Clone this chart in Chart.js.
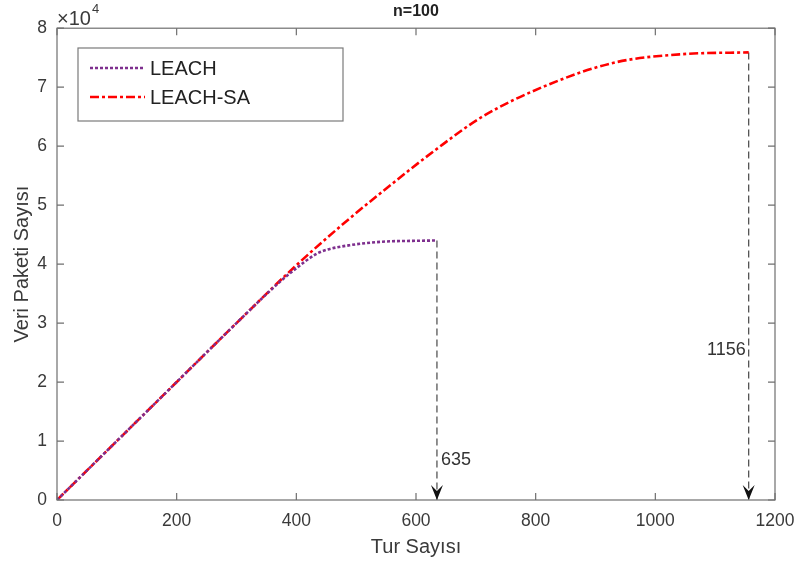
<!DOCTYPE html>
<html lang="tr">
<head>
<meta charset="UTF-8">
<title>n=100</title>
<script src="https://cdn.jsdelivr.net/npm/chart.js"></script>
<style>
  html, body { margin: 0; padding: 0; background: #fff; }
  #wrap { width: 797px; height: 562px; }
</style>
</head>
<body>
<div id="wrap"><canvas id="myChart" width="797" height="562"></canvas></div>
<script>
  // LEACH: tur sayısı / veri paketi
  const leachRounds = [0, 100, 200, 300, 350, 377, 400, 433, 450, 489, 544, 600, 635];
  const leachPackets = [0, 10000, 20000, 30000, 34900, 37400, 39300, 41700, 42400, 43200, 43800, 43950, 44000];

  // LEACH-SA
  const saRounds = [0, 100, 200, 300, 400, 477, 544, 633, 711, 823, 933, 1045, 1156];
  const saPackets = [0, 10000, 20000, 30000, 39800, 46700, 52300, 59400, 65000, 70500, 74200, 75600, 75900];

  // ömür sonu işaretleri (son tur)
  const lastRounds = [635, 1156];
  const lastPackets = [44000, 75900];
  const lastLabels = ['635', '1156'];
  const lastLabelY = [6800, 25500];

  const xTicks = [0, 200, 400, 600, 800, 1000, 1200];
  const yTicks = [0, 10000, 20000, 30000, 40000, 50000, 60000, 70000, 80000];

  const axisGray = '#6f6f6f';
  const textGray = '#3a3a3a';
  const fontFamily = '"Liberation Sans", Arial, sans-serif';

  function pts(xs, ys) {
    return xs.map((x, i) => ({ x: x, y: ys[i] }));
  }

  const datasets = [
    {
      label: 'LEACH',
      data: pts(leachRounds, leachPackets),
      borderColor: '#7e2f8e',
      borderWidth: 2.6,
      borderDash: [3, 2],
      cubicInterpolationMode: 'monotone',
      pointRadius: 0,
      fill: false
    },
    {
      label: 'LEACH-SA',
      data: pts(saRounds, saPackets),
      borderColor: '#ff0000',
      borderWidth: 2.6,
      borderDash: [9, 3, 3, 3],
      cubicInterpolationMode: 'monotone',
      pointRadius: 0,
      fill: false
    }
  ];

  // kesikli dikey çizgiler
  lastRounds.forEach((r, i) => {
    datasets.push({
      label: 'son-' + lastLabels[i],
      data: [{ x: r, y: lastPackets[i] }, { x: r, y: 0 }],
      borderColor: '#555',
      borderWidth: 1.3,
      borderDash: [7, 4],
      pointRadius: 0,
      fill: false
    });
  });

  // MATLAB tarzı kutu, içe dönük çentikler, legend, oklar
  const matlabPlugin = {
    id: 'matlabAxes',
    afterDatasetsDraw(chart) {
      const { ctx, chartArea: a, scales: { x, y } } = chart;
      ctx.save();

      // oklar ve etiketler
      lastRounds.forEach((r, i) => {
        const px = x.getPixelForValue(r);
        const py = y.getPixelForValue(0);
        ctx.fillStyle = '#111';
        ctx.beginPath();
        ctx.moveTo(px, py);
        ctx.lineTo(px - 6, py - 15);
        ctx.lineTo(px, py - 9);
        ctx.lineTo(px + 6, py - 15);
        ctx.closePath();
        ctx.fill();

        ctx.font = '18px ' + fontFamily;
        ctx.fillStyle = '#333';
        ctx.textBaseline = 'middle';
        const ly = y.getPixelForValue(lastLabelY[i]);
        if (i === 0) {
          ctx.textAlign = 'left';
          ctx.fillText(lastLabels[i], px + 4, ly);
        } else {
          ctx.textAlign = 'right';
          ctx.fillText(lastLabels[i], px - 3, ly);
        }
      });

      // kutu
      ctx.strokeStyle = axisGray;
      ctx.lineWidth = 1.2;
      ctx.setLineDash([]);
      ctx.strokeRect(a.left, a.top, a.right - a.left, a.bottom - a.top);

      // çentikler
      const tl = 7;
      ctx.beginPath();
      xTicks.forEach(v => {
        const px = x.getPixelForValue(v);
        ctx.moveTo(px, a.bottom); ctx.lineTo(px, a.bottom - tl);
        ctx.moveTo(px, a.top); ctx.lineTo(px, a.top + tl);
      });
      yTicks.forEach(v => {
        const py = y.getPixelForValue(v);
        ctx.moveTo(a.left, py); ctx.lineTo(a.left + tl, py);
        ctx.moveTo(a.right, py); ctx.lineTo(a.right - tl, py);
      });
      ctx.stroke();

      // x10^4 çarpanı
      ctx.fillStyle = textGray;
      ctx.textAlign = 'left';
      ctx.textBaseline = 'alphabetic';
      ctx.font = '20px ' + fontFamily;
      ctx.fillText('\u00d710', a.left, a.top - 3);
      ctx.font = '13px ' + fontFamily;
      ctx.fillText('4', a.left + 35, a.top - 15);

      // legend
      const lx = 78, ly = 48, lw = 265, lh = 73;
      ctx.fillStyle = '#fff';
      ctx.fillRect(lx, ly, lw, lh);
      ctx.strokeStyle = '#7a7a7a';
      ctx.lineWidth = 1.2;
      ctx.strokeRect(lx, ly, lw, lh);
      [0, 1].forEach(i => {
        const ds = chart.data.datasets[i];
        const rowY = ly + 20 + i * 29;
        ctx.strokeStyle = ds.borderColor;
        ctx.lineWidth = ds.borderWidth;
        ctx.setLineDash(ds.borderDash);
        ctx.beginPath();
        ctx.moveTo(lx + 12, rowY);
        ctx.lineTo(lx + 67, rowY);
        ctx.stroke();
        ctx.setLineDash([]);
        ctx.fillStyle = '#222';
        ctx.font = '20px ' + fontFamily;
        ctx.textBaseline = 'middle';
        ctx.fillText(ds.label, lx + 72, rowY + 1);
      });

      ctx.restore();
    }
  };

  const ctx = document.getElementById('myChart').getContext('2d');
  const myChart = new Chart(ctx, {
    type: 'line',
    data: { datasets: datasets },
    options: {
      responsive: false,
      animation: false,
      layout: { padding: { left: 0, right: 22, top: 0, bottom: 0 } },
      plugins: {
        legend: { display: false },
        tooltip: { enabled: false },
        title: {
          display: true,
          text: 'n=100',
          fullSize: false,
          color: '#222',
          font: { family: fontFamily, size: 16, weight: 'bold' },
          padding: { top: 2, bottom: 7 }
        }
      },
      scales: {
        x: {
          type: 'linear',
          min: 0,
          max: 1200,
          afterFit: s => { s.height = 62; s.paddingLeft = 0; s.paddingRight = 0; },
          grid: { display: false, drawTicks: false },
          border: { display: false },
          ticks: {
            stepSize: 200,
            padding: 11,
            color: textGray,
            font: { family: fontFamily, size: 17.5 },
            maxRotation: 0,
            callback: v => String(v)
          },
          title: {
            display: true,
            text: 'Tur Sayısı',
            color: textGray,
            font: { family: fontFamily, size: 20 },
            padding: { top: 0, bottom: 3 }
          }
        },
        y: {
          type: 'linear',
          min: 0,
          max: 80000,
          afterFit: s => { s.width = 57; s.paddingTop = 0; s.paddingBottom = 0; },
          grid: { display: false, drawTicks: false },
          border: { display: false },
          ticks: {
            stepSize: 10000,
            padding: 10,
            color: textGray,
            font: { family: fontFamily, size: 17.5 },
            callback: v => String(v / 10000)
          },
          title: {
            display: true,
            text: 'Veri Paketi Sayısı',
            color: textGray,
            font: { family: fontFamily, size: 20 },
            padding: { top: 10, bottom: 0 }
          }
        }
      }
    },
    plugins: [matlabPlugin]
  });
</script>
</body>
</html>
